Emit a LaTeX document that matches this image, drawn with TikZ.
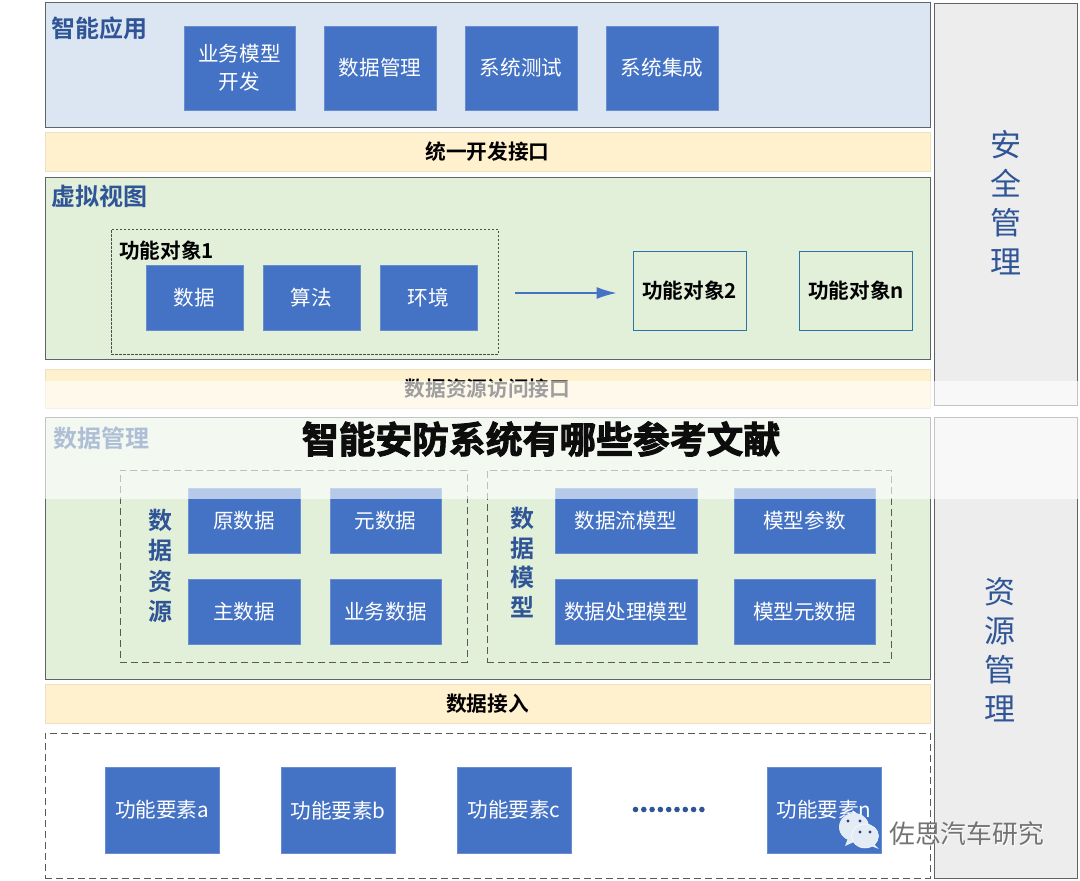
\documentclass[tikz,border=0pt]{standalone}
\usepackage{fontspec}
\setmainfont{Noto Sans CJK SC}[BoldFont=* Bold]
\newfontfamily\titlefont{Noto Sans CJK SC Bold}[FakeBold=2.5]
\usetikzlibrary{arrows.meta,shapes.callouts}
\definecolor{panelblue}{HTML}{DCE6F3}
\definecolor{paneltan}{HTML}{FFF0CE}
\definecolor{panelgreen}{HTML}{E2EFD9}
\definecolor{panelgray}{HTML}{EDEDED}
\definecolor{boxblue}{HTML}{4472C4}
\definecolor{headblue}{HTML}{2F5597}
\definecolor{edgegray}{HTML}{5F6468}
\tikzset{
  panel/.style={draw=edgegray,line width=.9pt,inner sep=0pt,anchor=center},
  tanbar/.style={fill=paneltan,draw=paneltan!85!gray,line width=.6pt,inner sep=0pt,font=\bfseries\fontsize{20.7}{22}\selectfont,text=black,minimum width=885pt,minimum height=39pt},
  bluebox/.style={fill=boxblue,draw=boxblue!80!white,line width=.5pt,inner sep=0pt,text=white,align=center,font=\fontsize{20.6}{28}\selectfont},
  outlinebox/.style={fill=panelgreen,draw=boxblue!60!teal,line width=.9pt,inner sep=0pt,font=\bfseries\fontsize{20.6}{22}\selectfont},
  dashbox/.style={draw=black!65,dash pattern=on 7pt off 4pt,line width=1pt,inner sep=0pt},
  thindash/.style={draw=black!70,dash pattern=on 2.5pt off 1.5pt,line width=.6pt,inner sep=0pt},
  heading/.style={anchor=west,inner sep=0pt,text=headblue,font=\bfseries\fontsize{24}{26}\selectfont},
  sidetext/.style={text=headblue,align=center,inner sep=0pt,font=\fontsize{31}{39}\selectfont},
  vertlabel/.style={text=headblue,align=center,inner sep=0pt,font=\bfseries\fontsize{24}{30.5}\selectfont},
}
\begin{document}
\begin{tikzpicture}[x=1pt,y=-1pt]
\useasboundingbox (0,0) rectangle (1080,881);
\fill[white] (0,0) rectangle (1080,881);
% panels
\node[panel,fill=panelblue,minimum width=885pt,minimum height=125pt] (app) at (487.5,64.5) {};
\node[tanbar] (devif) at (487.5,151.5) {\raisebox{-1pt}{统一开发接口}};
\node[panel,fill=panelgreen,minimum width=885pt,minimum height=182pt] (virt) at (487.5,268) {};
\node[tanbar] (dataif) at (487.5,388.5) {\raisebox{-1.5pt}{数据资源访问接口}};
\node[panel,fill=panelgreen,minimum width=885pt,minimum height=262pt] (dm) at (487.5,548) {};
\node[tanbar] (ingest) at (487.5,703.5) {\raisebox{-.5pt}{数据接入}};
\node[dashbox,minimum width=885pt,minimum height=145pt] (elems) at (487.5,805.5) {};
\node[panel,fill=panelgray,minimum width=143pt,minimum height=402pt] (sec) at (1005.5,204) {};
\node[panel,fill=panelgray,minimum width=143pt,minimum height=461pt] (res) at (1005.5,647.5) {};
\node[sidetext] (sect) at (1006,203) {安\\全\\管\\理};
\node[sidetext] (rest) at (1000,650) {资\\源\\管\\理};
% headings
\node[heading] (h1) at (51,28) {智能应用};
\node[heading] (h2) at (51,196) {虚拟视图};
\node[heading] (h3) at (53,438) {数据管理};
% app boxes
\node[bluebox,minimum width=111pt,minimum height=84pt] (a1) at (239.5,68) {业务模型\\开发};
\node[bluebox,minimum width=112pt,minimum height=84pt] (a2) at (380,68) {数据管理};
\node[bluebox,minimum width=112pt,minimum height=84pt] (a3) at (521,68) {系统测试};
\node[bluebox,minimum width=112pt,minimum height=84pt] (a4) at (662,68) {系统集成};
% virtual view
\node[thindash,minimum width=387pt,minimum height=125pt] (fo1) at (304.5,291.5) {};
\node[anchor=west,inner sep=0pt,font=\bfseries\fontsize{20.6}{22}\selectfont] (fo1t) at (119,251) {功能对象1};
\node[bluebox,minimum width=97pt,minimum height=65pt] (v1) at (194.5,297.5) {数据};
\node[bluebox,minimum width=97pt,minimum height=65pt] (v2) at (311.5,297.5) {算法};
\node[bluebox,minimum width=97pt,minimum height=65pt] (v3) at (428.5,297.5) {环境};
\node[outlinebox,minimum width=113pt,minimum height=79pt] (fo2) at (689.5,290.5) {功能对象2};
\node[outlinebox,minimum width=113pt,minimum height=79pt] (fon) at (856,290.5) {功能对象n};
\coordinate (arrowfrom) at ([yshift=-1.5pt]fo1.east);
\draw[-{Latex[length=20pt,width=12pt]},draw=boxblue,line width=1.5pt,shorten <=17pt,shorten >=16pt] (arrowfrom) -- (arrowfrom -| fo2.west);
% data management
\node[dashbox,minimum width=347pt,minimum height=192pt] (ds) at (293.5,566) {};
\node[dashbox,minimum width=404pt,minimum height=192pt] (dmod) at (689,566) {};
\node[vertlabel] (dst) at (160,566) {数\\据\\资\\源};
\node[vertlabel,font=\bfseries\fontsize{24}{29.5}\selectfont] (dmt) at (522,562.5) {数\\据\\模\\型};
\node[bluebox,minimum width=112pt,minimum height=65pt] (d1) at (244,520.5) {原数据};
\node[bluebox,minimum width=111pt,minimum height=65pt] (d2) at (385.5,520.5) {元数据};
\node[bluebox,minimum width=112pt,minimum height=65pt] (d3) at (244,611.5) {主数据};
\node[bluebox,minimum width=111pt,minimum height=65pt] (d4) at (385.5,611.5) {业务数据};
\node[bluebox,minimum width=142pt,minimum height=65pt] (m1) at (626,520.5) {数据流模型};
\node[bluebox,minimum width=141pt,minimum height=65pt] (m2) at (804.5,520.5) {模型参数};
\node[bluebox,minimum width=142pt,minimum height=65pt] (m3) at (626,611.5) {数据处理模型};
\node[bluebox,minimum width=141pt,minimum height=65pt] (m4) at (804.5,611.5) {模型元数据};
% elements
\node[bluebox,minimum width=114pt,minimum height=86pt] (e1) at (162,810) {功能要素a};
\node[bluebox,minimum width=114pt,minimum height=86pt] (e2) at (338,810.5) {功能要素b};
\node[bluebox,minimum width=114pt,minimum height=86pt] (e3) at (514,810) {功能要素c};
\node[bluebox,minimum width=114pt,minimum height=86pt] (e4) at (824,810) {功能要素n};
\foreach \i in {0,...,8} \fill[headblue] (635.5+\i*8.3,809.5) circle (2.8pt);
% white veil over the middle of the picture
\fill[white,fill opacity=.62] (0,381) rectangle (1080,499);
% title
\node[inner sep=0pt,text=black!95] (title) at (541,439) {\titlefont\fontsize{36.8}{40}\selectfont 智能安防系统有哪些参考文献};
% watermark
\fill[panelblue!80!white] (848,838) -- (845,846) -- (854,842) -- cycle;
\fill[panelblue!80!white] (854,827) ellipse (15pt and 14pt);
\fill[white!90!boxblue] (875,845) -- (879,849) -- (871,846) -- cycle;
\draw[fill=panelblue!80!white,draw=white,line width=.5pt] (865,836) ellipse (13.5pt and 12pt);
\foreach \x/\y in {848/821,860/821,860/832,870/832} \fill[headblue!80!black] (\x,\y) circle (1.7pt);
\node[anchor=west,inner sep=0pt,text=white,font=\fontsize{25.8}{27}\selectfont] (wms) at (889.8,834.8) {佐思汽车研究};
\node[anchor=west,inner sep=0pt,text=black!55,font=\fontsize{25.8}{27}\selectfont] (wm) at (889,834) {佐思汽车研究};
\end{tikzpicture}
\end{document}
